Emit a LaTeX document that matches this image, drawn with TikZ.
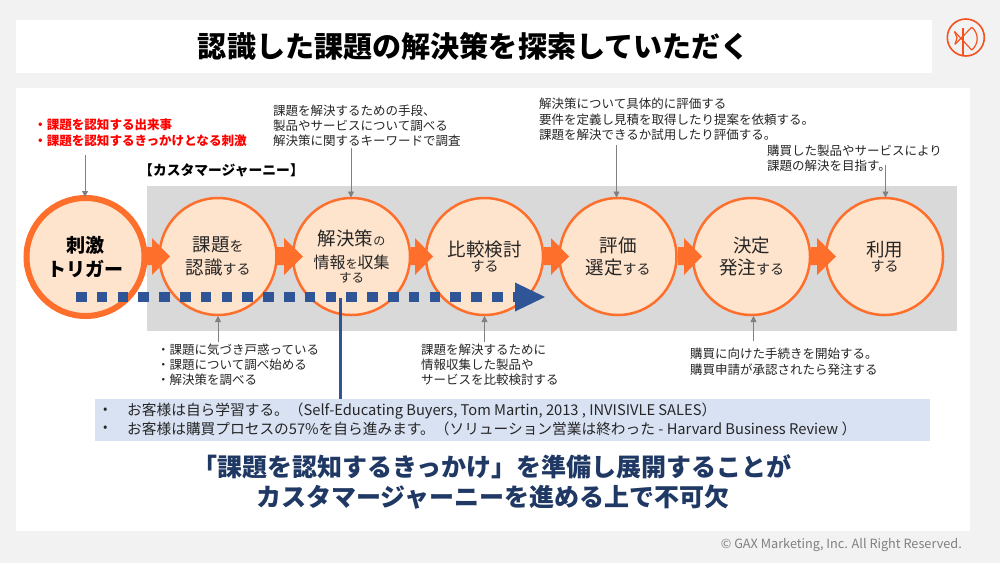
\documentclass[tikz,border=0pt]{standalone}
\usepackage{fontspec}
\setmainfont{Noto Sans CJK JP}
\usetikzlibrary{arrows.meta}
\definecolor{pagebg}{HTML}{F2F2F2}
\definecolor{band}{HTML}{D9D9D9}
\definecolor{orng}{HTML}{FF6F2C}
\definecolor{logoc}{HTML}{F4511E}
\definecolor{peach}{HTML}{FFE4CD}
\definecolor{blu}{HTML}{2F5597}
\definecolor{lblu}{HTML}{D9E2F3}
\definecolor{navy}{HTML}{1F3864}
\definecolor{txt}{HTML}{262626}
\newcommand{\fs}[1]{\fontsize{#1}{#1}\selectfont}
\newcommand{\tb}[1]{{\fs{18.5}#1}}
\newcommand{\tm}[1]{{\fs{16}#1}}
\newcommand{\ts}[1]{{\fs{14}#1}}
\tikzset{
  x=1pt,y=-1pt,
  stage/.style={circle,draw=orng,line width=2.5pt,fill=peach,minimum size=117pt,inner sep=0pt,align=center,text=txt},
  trig/.style={circle,draw=orng,line width=6pt,fill=peach,minimum size=118pt,inner sep=0pt,align=center,font=\fs{19}\bfseries,text=black},
  note/.style={anchor=north west,inner sep=0pt,align=left,font=\fs{12.5},text=txt},
  feed/.style={draw=gray,line width=0.8pt,-{Triangle[length=6pt,width=6pt]}},
  flow/.style={fill=orng,draw=none},
  lines15/.style={execute at begin node={\baselineskip=15pt\lineskip=0pt\lineskiplimit=-100pt}},
  lines16/.style={execute at begin node={\baselineskip=15.6pt\lineskip=0pt\lineskiplimit=-100pt}},
}
\begin{document}
\begin{tikzpicture}
\useasboundingbox (0,0) rectangle (1000,563);
\fill[pagebg] (0,0) rectangle (1000,563);
\fill[white] (16,20) rectangle (932,73);
\fill[white] (16,88) rectangle (970,531);
\fill[band] (147,186) rectangle (957,331);
\node (title) at (474,46) {\fs{29.1}\bfseries 認識した課題の解決策を探索していただく};
% logo
\node[circle,draw=logoc,line width=1.6pt,minimum size=37pt,inner sep=0pt] (logo) at (965.8,37.5) {};
\begin{scope}[draw=logoc,line width=1.2pt]
\draw (963,27.5) -- (963,56);
\draw (954.5,31.5) -- (971.7,50);
\draw (955,44.3) -- (971.7,27.3);
\draw (954.5,31.5) -- (957,38) -- (955,44.3);
\draw (971.7,27.3) .. controls (979,33) and (979,44) .. (971.7,50);
\end{scope}
% circles
\node[stage] (c2) at (218,256.5) {\tb{課題}\ts{を}\\[4.5pt]\tb{認識}\ts{する}};
\node[stage] (c3) at (351.5,256.5) {\tb{解決策}{\fs{12}の}\\[7.5pt]\tm{情報}{\fs{12}を}\tm{収集}\\[2pt]{\fs{12.5}する}};
\node[stage] (c4) at (484.5,256.5) {\tb{比較検討}\\[2pt]\ts{する}};
\node[stage] (c5) at (618,256.5) {\tb{評価}\\[4.5pt]\tb{選定}\ts{する}};
\node[stage] (c6) at (751.5,256.5) {\tb{決定}\\[4.5pt]\tb{発注}\ts{する}};
\node[stage] (c7) at (884.5,256.5) {\tb{利用}\\[2pt]\ts{する}};
\node[trig] (c1) at (85.5,257) {刺激\\[5pt]トリガー};
% flow arrows
\foreach \s/\b/\t in {142/152/170,277/284/303,411/415/433,544/551/569,678/684/702,811/817/836}{
  \fill[flow] (\s,247) -- (\b,247) -- (\b,238) -- (\t,256.5) -- (\b,275) -- (\b,265) -- (\s,265) -- cycle;
}
% dashed arrow
\coordinate (ds) at (76,297);
\coordinate (de) at (516,297);
\draw[blu,line width=10.5pt,dash pattern=on 10.5pt off 10.3pt] (ds) -- (de);
\node[fill=blu,draw=none,inner sep=0pt,minimum size=0pt] (tip) at (545,297) {};
\fill[blu] (515,282.5) -- (tip.center) -- (515,311.5) -- cycle;
% notes
\node[note,text=red,font=\fs{12.55}\bfseries,lines16] (n1) at (34,119) {・課題を認知する出来事\\・課題を認知するきっかけとなる刺激};
\node[anchor=west,inner sep=0pt,font=\fs{13.8}\bfseries,text=black] (jt) at (139,170.5) {【カスタマージャーニー】};
\node[note,lines15] (n3) at (273,105) {課題を解決するための手段、\\製品やサービスについて調べる\\解決策に関するキーワードで調査};
\node[note,lines16] (n5) at (539,98) {解決策について具体的に評価する\\要件を定義し見積を取得したり提案を依頼する。\\課題を解決できるか試用したり評価する。};
\node[note,lines16] (n7) at (767,144.5) {購買した製品やサービスにより\\課題の解決を目指す。};
\node[note,lines15] (n2) at (157,344) {・課題に気づき戸惑っている\\・課題について調べ始める\\・解決策を調べる};
\node[note,lines15] (n4) at (421,344) {課題を解決するために\\情報収集した製品や\\サービスを比較検討する};
\node[note,lines16] (n6) at (690,348) {購買に向けた手続きを開始する。\\購買申請が承認されたら発注する};
% feeders
\coordinate (f1) at (85,155);
\coordinate (f3) at (351,148);
\coordinate (f5) at (616.5,145);
\coordinate (f7) at (885.5,165);
\coordinate (f2) at (218,341.5);
\coordinate (f4) at (484.5,341.5);
\coordinate (f6) at (753.5,341);
\draw[feed] (f1) -- (85,197);
\draw[feed] (f3) -- (351,197.5);
\draw[feed] (f5) -- (616.5,197.5);
\draw[feed] (f7) -- (885.5,197.5);
\draw[feed] (f2) -- (218,316);
\draw[feed] (f4) -- (484.5,316);
\draw[feed] (f6) -- (753.5,316);
% info box
\node[fill=lblu,minimum width=835pt,minimum height=42pt,inner sep=0pt,anchor=north west] (info) at (95,399) {};
\node[anchor=west,inner sep=0pt,font=\fs{13},text=txt] (b1) at (103,411) {•};
\node[anchor=west,inner sep=0pt,font=\fs{13},text=txt] (b2) at (103,428.5) {•};
\node[anchor=west,inner sep=0pt,font=\fs{14.7},text=txt] (i1) at (127,411) {お客様は自ら学習する。（Self-Educating Buyers, Tom Martin, 2013 , INVISIVLE SALES）};
\node[anchor=west,inner sep=0pt,font=\fs{14.7},text=txt] (i2) at (127,428.5) {お客様は購買プロセスの57\%を自ら進みます。（ソリューション営業は終わった - Harvard Business Review ）};
\coordinate (vs) at (340,298);
\draw[blu,line width=3pt] (vs) -- (vs |- info.north);
% headline
\node[font=\fs{25}\bfseries,text=navy] (h1) at (492,467) {「課題を認知するきっかけ」を準備し展開することが};
\node[font=\fs{25}\bfseries,text=navy] (h2) at (493,497) {カスタマージャーニーを進める上で不可欠};
\node[anchor=east,inner sep=0pt,font=\fs{12.7},text=gray] (cr) at (962,545) {© GAX Marketing, Inc. All Right Reserved.};
\end{tikzpicture}
\end{document}
